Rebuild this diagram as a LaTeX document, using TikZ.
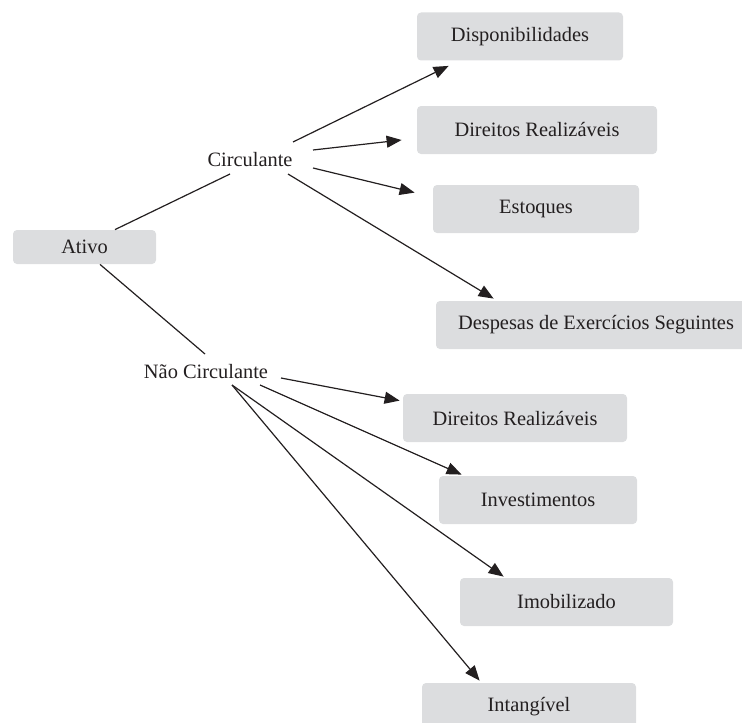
\documentclass[tikz,border=0pt]{standalone}
\usepackage{fontspec}
\setmainfont{Liberation Serif}
\usetikzlibrary{calc}
\usetikzlibrary{positioning}
\usetikzlibrary{arrows.meta}
\definecolor{boxgray}{HTML}{DCDDDF}
\definecolor{inkdark}{HTML}{231F20}
\begin{document}
\begin{tikzpicture}[x=0.5pt, y=-0.5pt, font=\fontsize{10.2}{12}\selectfont, text=inkdark]
    \tikzstyle{item}=[fill=boxgray, rounded corners=2pt, inner sep=0pt,
                      minimum height=24pt]
    \tikzstyle{link}=[draw=inkdark, line width=0.6pt]
    \tikzstyle{arr}=[link, -{Triangle[length=7.5pt,width=6pt]}]
    \useasboundingbox (0,0) rectangle (742,722);
    % Root and groups
    \node[item, minimum height=17pt, minimum width=71.5pt] (ativo) at (84.5,247) {Ativo};
    \node (circ) at (250,160) {Circulante};
    \node (nc) at (206,372) {Não Circulante};
    % Leaves
    \foreach \place/\name/\bw/\txt in {{(520,36.5)/disp/103/Disponibilidades},
        {(537,130)/dra/120/Direitos Realizáveis}, {(536,209)/est/103/Estoques},
        {(596,325)/desp/160/Despesas de Exercícios Seguintes},
        {(515,418)/drb/112/Direitos Realizáveis}, {(538,500)/inv/99/Investimentos},
        {(566.5,602)/imob/106.5/Imobilizado}, {(529,707)/intg/107/Intangível}}
        \node[item, minimum width=\bw pt] (\name) at \place {\txt};
    % Branches
    \draw[link] ($(ativo.north)+(30.5,0)$) -- ($(circ)+(-20,14)$);
    \draw[link] ($(ativo.south)+(15.5,0)$) -- ($(nc)+(-1,-18)$);
    \draw[arr] ($(circ)+(43,-18)$) -- ($(disp.south west)+(32,5)$);
    \draw[arr] ($(circ)+(63,-10)$) -- ($(dra.west)+(-15,10)$);
    \draw[arr] ($(circ)+(63,8)$) -- ($(est.north west)+(-18,8)$);
    \draw[arr] ($(circ)+(38,14)$) -- ($(desp.north west)+(58,-2)$);
    \draw[arr] ($(nc)+(75,6)$) -- ($(drb.north west)+(-3,7)$);
    \draw[arr] ($(nc)+(54,13)$) -- ($(inv.north west)+(23,-1)$);
    \draw[arr] ($(nc)+(26,13)$) -- ($(imob.north west)+(44,-1)$);
    \draw[arr] ($(nc)+(26,13)$) -- ($(intg.north west)+(58,-2)$);
\end{tikzpicture}
\end{document}
